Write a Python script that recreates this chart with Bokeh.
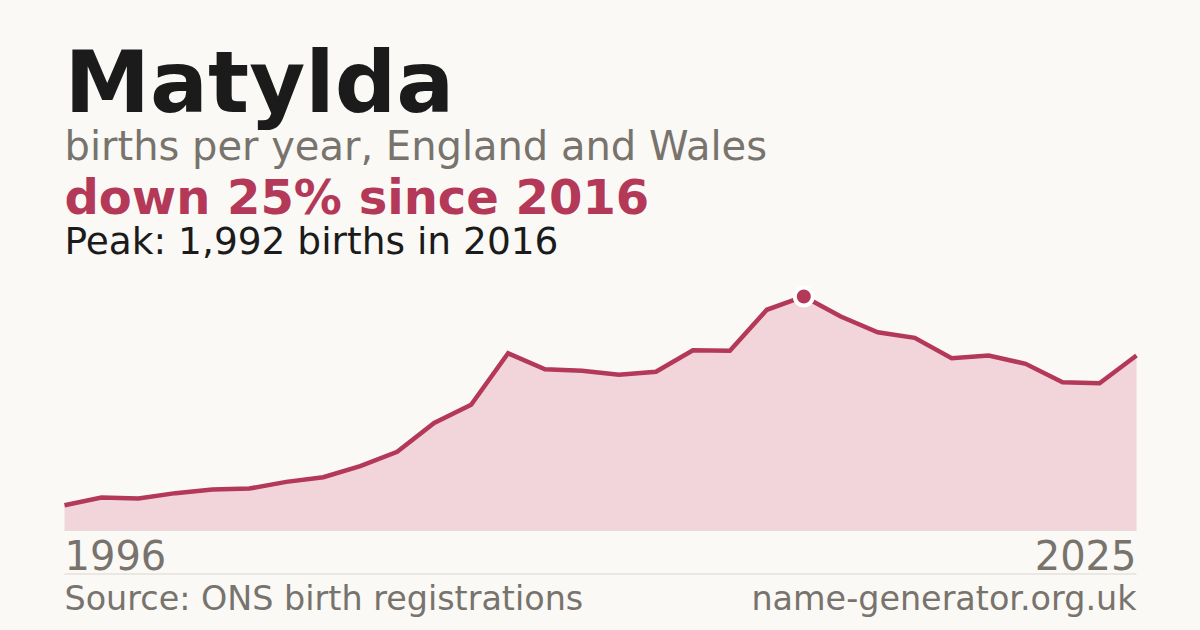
from bokeh.plotting import figure
from bokeh.models import Label, BoxAnnotation, Range1d
from bokeh.embed import file_html
from bokeh.resources import INLINE

# ---- data ----
years = list(range(1996, 2026))
births = [215, 281, 272, 318, 349, 357, 414, 454, 548, 670,
          915, 1070, 1509, 1373, 1360, 1325, 1352, 1535, 1530, 1879,
          1992, 1822, 1688, 1640, 1467, 1490, 1419, 1262, 1254, 1490]
peak_year = 2016
peak_value = 1992
title = "Matylda"
subtitle = "births per year, England and Wales"
headline = "down 25% since 2016"
peak_text = "Peak: 1,992 births in 2016"
start_label = "1996"
end_label = "2025"
source_text = "Source: ONS birth registrations"
site_text = "name-generator.org.uk"

# ---- layout constants (pixels) ----
W, H = 1200, 630
left_px, right_px = 64, 1136      # plot x extent
base_px = 530                     # y of zero (from top)
peak_px = 296                     # y of peak (from top)

BG = "#faf9f5"
ACCENT = "#b43858"
FILL = "#f1d5da"
GREY = "#78736c"
DARK = "#1b1b1b"

ppy = (right_px - left_px) / (years[-1] - years[0])
x_start = years[0] - left_px / ppy
x_end = years[-1] + (W - right_px) / ppy
upp = peak_value / (base_px - peak_px)
y_start = -(H - base_px) * upp
y_end = base_px * upp

p = figure(width=W, height=H, output_backend="svg", toolbar_location=None,
           x_range=Range1d(x_start, x_end), y_range=Range1d(y_start, y_end),
           min_border=0, min_border_left=0, min_border_right=0,
           min_border_top=0, min_border_bottom=0)
p.axis.visible = False
p.grid.visible = False
p.outline_line_color = None
p.background_fill_color = BG
p.border_fill_color = BG

p.varea(x=years, y1=[0] * len(years), y2=births, fill_color=FILL)
p.line(x=[years[0], years[-1]], y=[0, 0], line_color="#e2ddd7", line_width=1)
p.line(x=years, y=births, line_color=ACCENT, line_width=4.5, line_join="miter")
p.scatter(x=[peak_year], y=[peak_value], size=18, fill_color=ACCENT,
          line_color="white", line_width=4)

def lab(text, x, base_y, size, color, bold=False, align="left"):
    # base_y: desired baseline, in pixels from the top of the page
    p.add_layout(Label(x=x, y=H - base_y + 0.36 * size, x_units="screen", y_units="screen",
                       text=text,
                       text_font="DejaVu Sans", text_font_size=f"{size}px",
                       text_font_style="bold" if bold else "normal",
                       text_color=color, text_align=align,
                       text_baseline="alphabetic"))

lab(title, left_px, 112, 86, DARK, bold=True)
lab(subtitle, left_px, 160, 40, GREY)
lab(headline, left_px, 214, 48, ACCENT, bold=True)
lab(peak_text, left_px, 254, 37.5, DARK)
lab(start_label, left_px, 569, 40, GREY)
lab(end_label, right_px, 569, 40, GREY, align="right")
lab(source_text, left_px, 610, 33.4, GREY)
lab(site_text, right_px, 610, 33.4, GREY, align="right")

p.add_layout(BoxAnnotation(left=left_px, right=right_px, bottom=H - 574, top=H - 573,
                           left_units="screen", right_units="screen",
                           bottom_units="screen", top_units="screen",
                           fill_color="#dcd8d2", fill_alpha=1, line_color=None))

html = file_html(p, INLINE)
html = html.replace("<head>", "<head><style>html,body{background:%s;}</style>" % BG, 1)
open("out.html", "w").write(html)
